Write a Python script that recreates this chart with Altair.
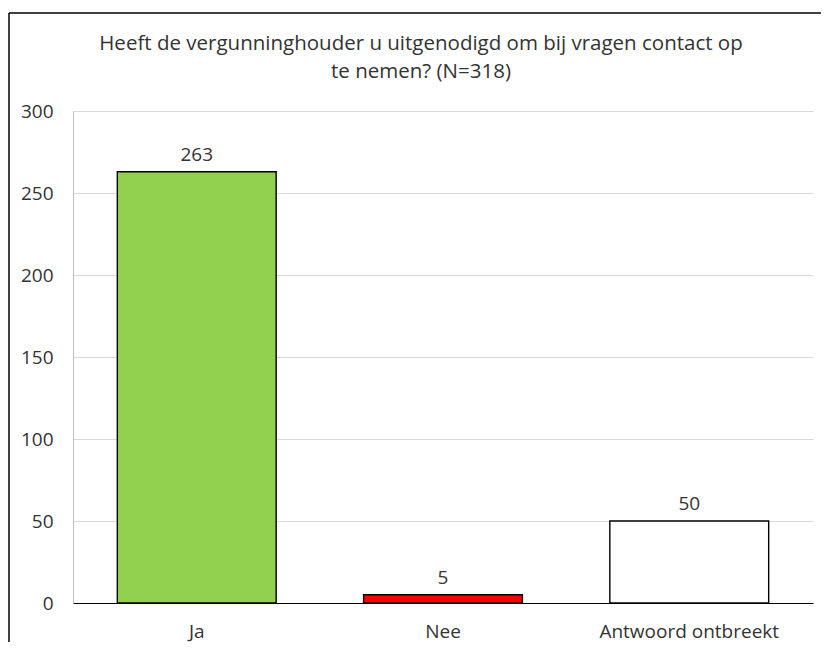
import altair as alt
import pandas as pd

categories = ["Ja", "Nee", "Antwoord ontbreekt"]
values = [263, 5, 50]
colors = ["#92D050", "#FF0000", "#FFFFFF"]
title_lines = ["Heeft de vergunninghouder u uitgenodigd om bij vragen contact op", "te nemen? (N=318)"]

df = pd.DataFrame({"cat": categories, "val": values, "col": colors})

FONT = "Open Sans"
TXT = "#333333"
FS = 19

x = alt.X("cat:N", sort=categories, title=None,
          scale=alt.Scale(paddingInner=0.355, paddingOuter=0.18),
          axis=alt.Axis(labelAngle=0, ticks=False, domainColor="#000000", domainWidth=1.2,
                        labelPadding=19, labelFontSize=FS, labelFont=FONT, labelColor=TXT,
                        grid=False))
y = alt.Y("val:Q", title=None,
          scale=alt.Scale(domain=[0, 300]),
          axis=alt.Axis(values=[0, 50, 100, 150, 200, 250, 300], ticks=False,
                        domainColor="#BFBFBF", gridColor="#D9D9D9", labelPadding=20,
                        labelFontSize=FS, labelFont=FONT, labelColor=TXT))

bars = alt.Chart(df).mark_bar(stroke="#000000", strokeWidth=1.4).encode(
    x=x, y=y, fill=alt.Fill("col:N", scale=None)
)

labels = alt.Chart(df).mark_text(baseline="alphabetic", dy=-11, fontSize=FS, font=FONT, color=TXT).encode(
    x=alt.X("cat:N", sort=categories), y="val:Q", text="val:Q"
)

frame_top = alt.Chart(alt.Data(values=[{}])).mark_rule(stroke="#000000", strokeWidth=1.5).encode(
    x=alt.value(-64), x2=alt.value(800), y=alt.value(-98)
)
frame_left = alt.Chart(alt.Data(values=[{}])).mark_rule(stroke="#000000", strokeWidth=1.5).encode(
    x=alt.value(-64), y=alt.value(-98), y2=alt.value(560)
)

title = alt.Chart(alt.Data(values=[{}])).mark_text(
    baseline="alphabetic", align="center", fontSize=20.5, font=FONT, color=TXT, lineHeight=28
).encode(x=alt.value(348), y=alt.value(-61), text=alt.value(title_lines))

chart = alt.layer(bars, labels, frame_top, frame_left, title).properties(
    width=740, height=492,
    autosize=alt.AutoSizeParams(type="none"),
    padding={"left": 65, "top": 103, "right": 8, "bottom": 39},
).configure_view(stroke=None)

chart.save("out.html", embed_options={"renderer": "svg", "actions": False})
